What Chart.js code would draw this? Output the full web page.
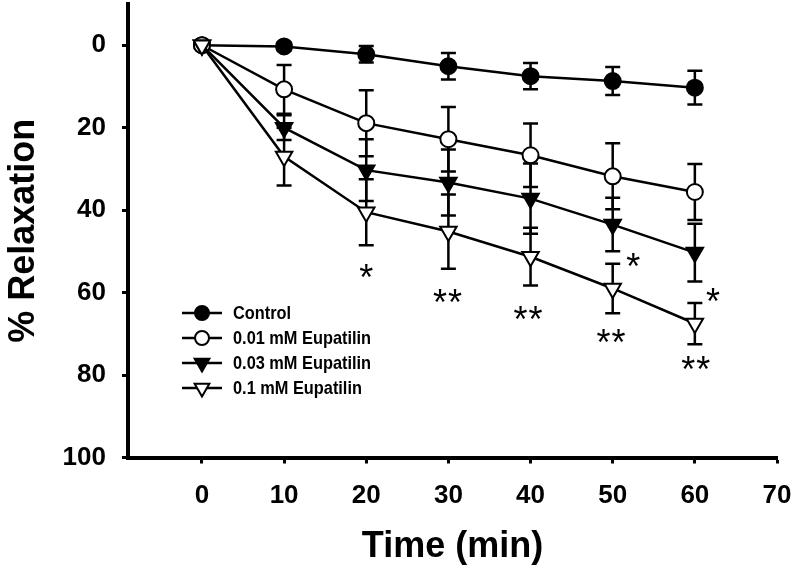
<!DOCTYPE html>
<html>
<head>
<meta charset="utf-8">
<script src="https://cdn.jsdelivr.net/npm/chart.js@4.4.1/dist/chart.umd.min.js"></script>
<style>
  html, body { margin: 0; padding: 0; background: #fff; }
  #wrap { width: 795px; height: 569px; }
</style>
</head>
<body>
<div id="wrap"><canvas id="relaxChart" width="795" height="569"></canvas></div>
<script>
// time points (min)
const times = [0, 10, 20, 30, 40, 50, 60];

// mean % relaxation and error per group
const control = [0, 0.3, 2.2, 5.1, 7.5, 8.7, 10.3];
const controlErr = [0, 1, 2, 3.2, 3.2, 3.4, 4.1];
const eup001 = [0, 10.7, 18.9, 22.8, 26.7, 31.8, 35.6];
const eup001Err = [0, 5.9, 8, 7.8, 7.7, 8, 6.8];
const eup003 = [0, 20, 30.3, 33.3, 37.2, 43.5, 50.3];
const eup003Err = [0, 3, 7.5, 8, 8.5, 6.5, 7];
const eup01 = [0, 27, 40.5, 45.2, 51.3, 59, 67.5];
const eup01Err = [0, 7, 8, 9, 7, 6, 5];

// significance marks
const sigX = [20, 29.9, 39.7, 49.8, 60.1, 52.5, 62.2];
const sigY = [54.5, 60.6, 64.7, 70.3, 76.8, 51.9, 60.4];
const sigLabel = ["*", "**", "**", "**", "**", "*", "*"];

// axis ticks
const xTicks = [0, 10, 20, 30, 40, 50, 60, 70];
const yTicks = [0, 20, 40, 60, 80, 100];

const seriesNames = ["Control", "0.01 mM Eupatilin", "0.03 mM Eupatilin", "0.1 mM Eupatilin"];

const FONT = '"Liberation Sans", Arial, sans-serif';

function makeSet(label, values, errs, style, fill, order) {
  const tri = style === "triangle";
  return {
    label: label,
    data: times.map((t, i) => ({ x: t, y: values[i] })),
    errors: errs,
    borderColor: "#000",
    borderWidth: 2.5,
    pointStyle: style,
    pointRotation: tri ? 180 : 0,
    pointRadius: tri ? 9.5 : 8,
    pointBorderWidth: 2,
    pointBackgroundColor: fill,
    pointBorderColor: "#000",
    tension: 0,
    order: order
  };
}

// no automatic label padding, the plot box is fixed
function noPad(s) {
  s.paddingTop = 0;
  s.paddingBottom = 0;
  s.paddingLeft = 0;
  s.paddingRight = 0;
}

// Draw error bars under the markers
const errorBars = {
  id: "errorBars",
  beforeDatasetsDraw(chart) {
    const ctx = chart.ctx;
    const yScale = chart.scales.y;
    ctx.save();
    ctx.strokeStyle = "#000";
    ctx.lineWidth = 2.5;
    chart.data.datasets.forEach((ds, di) => {
      const meta = chart.getDatasetMeta(di);
      meta.data.forEach((pt, i) => {
        const err = ds.errors[i];
        if (!err) return;
        const v = ds.data[i].y;
        const yTop = yScale.getPixelForValue(v - err);
        const yBot = yScale.getPixelForValue(v + err);
        ctx.beginPath();
        ctx.moveTo(pt.x, yTop);
        ctx.lineTo(pt.x, yBot);
        ctx.moveTo(pt.x - 7.5, yTop);
        ctx.lineTo(pt.x + 7.5, yTop);
        ctx.moveTo(pt.x - 7.5, yBot);
        ctx.lineTo(pt.x + 7.5, yBot);
        ctx.stroke();
      });
    });
    ctx.restore();
  }
};

function drawMarker(ctx, style, fill, x, y, r) {
  ctx.beginPath();
  if (style === "circle") {
    ctx.arc(x, y, r, 0, Math.PI * 2);
  } else {
    const s = Math.sin(Math.PI / 3) * r;
    ctx.moveTo(x, y + r);
    ctx.lineTo(x - s, y - r / 2);
    ctx.lineTo(x + s, y - r / 2);
    ctx.closePath();
  }
  ctx.fillStyle = fill;
  ctx.fill();
  ctx.lineWidth = 2;
  ctx.strokeStyle = "#000";
  ctx.stroke();
}

// Asterisks and the legend inside the plot
const extras = {
  id: "extras",
  afterDatasetsDraw(chart) {
    const ctx = chart.ctx;
    const xs = chart.scales.x, ys = chart.scales.y;
    ctx.save();
    ctx.fillStyle = "#000";
    ctx.font = '36px ' + FONT;
    ctx.textAlign = "center";
    ctx.textBaseline = "alphabetic";
    sigLabel.forEach((lab, i) => {
      const cx = xs.getPixelForValue(sigX[i]);
      const cy = ys.getPixelForValue(sigY[i]);
      const n = lab.length;
      for (let k = 0; k < n; k++) {
        const dx = (k - (n - 1) / 2) * 15;
        ctx.fillText("*", cx + dx, cy + 20);
      }
    });

    // legend (text condensed like the original narrow face)
    const area = chart.chartArea;
    const lx = area.left + 74;
    const ly = 313;
    chart.data.datasets.forEach((ds, i) => {
      const y = ly + i * 25;
      ctx.beginPath();
      ctx.moveTo(lx - 20, y);
      ctx.lineTo(lx + 20, y);
      ctx.lineWidth = 2.5;
      ctx.strokeStyle = "#000";
      ctx.stroke();
      const tri = ds.pointStyle === "triangle";
      drawMarker(ctx, ds.pointStyle, ds.pointBackgroundColor, lx, y, tri ? 8.5 : 7);
      ctx.save();
      ctx.translate(lx + 31, y + 1);
      ctx.scale(0.86, 1);
      ctx.fillStyle = "#000";
      ctx.font = 'bold 19px ' + FONT;
      ctx.textAlign = "left";
      ctx.textBaseline = "middle";
      ctx.fillText(seriesNames[i], 0, 0);
      ctx.restore();
    });
    ctx.restore();
  }
};

const ctx = document.getElementById("relaxChart").getContext("2d");
const relaxChart = new Chart(ctx, {
  type: "line",
  data: {
    datasets: [
      makeSet(seriesNames[0], control, controlErr, "circle", "#000", 4),
      makeSet(seriesNames[1], eup001, eup001Err, "circle", "#fff", 3),
      makeSet(seriesNames[2], eup003, eup003Err, "triangle", "#000", 2),
      makeSet(seriesNames[3], eup01, eup01Err, "triangle", "#fff", 1)
    ]
  },
  options: {
    responsive: false,
    animation: false,
    layout: { autoPadding: false, padding: { top: 4, right: 18, left: 0, bottom: 0 } },
    plugins: { legend: { display: false }, tooltip: { enabled: false } },
    scales: {
      x: {
        type: "linear",
        min: -9,
        max: 70,
        afterBuildTicks: s => { s.ticks = xTicks.map(v => ({ value: v })); },
        afterFit: s => { s.height = 111.5; noPad(s); },
        grid: { drawOnChartArea: false, drawTicks: true, tickLength: 6, tickWidth: 3, tickColor: "#000" },
        border: { display: true, color: "#000", width: 4 },
        ticks: { color: "#000", padding: 17, maxRotation: 0, font: { family: FONT, size: 26, weight: "bold" } },
        title: { display: true, text: "Time (min)", color: "#000", padding: { top: 0, bottom: 0 }, font: { family: FONT, size: 36, weight: "bold" } }
      },
      y: {
        type: "linear",
        reverse: true,
        min: -10,
        max: 100,
        afterBuildTicks: s => { s.ticks = yTicks.map(v => ({ value: v })); },
        afterFit: s => { s.width = 128; noPad(s); },
        grid: { drawOnChartArea: false, drawTicks: true, tickLength: 6, tickWidth: 3, tickColor: "#000" },
        border: { display: true, color: "#000", width: 4 },
        ticks: { color: "#000", padding: 16, font: { family: FONT, size: 26, weight: "bold" } },
        title: { display: true, text: "% Relaxation", color: "#000", padding: { top: 2, bottom: 0 }, font: { family: FONT, size: 36, weight: "bold" } }
      }
    }
  },
  plugins: [errorBars, extras]
});
</script>
</body>
</html>
